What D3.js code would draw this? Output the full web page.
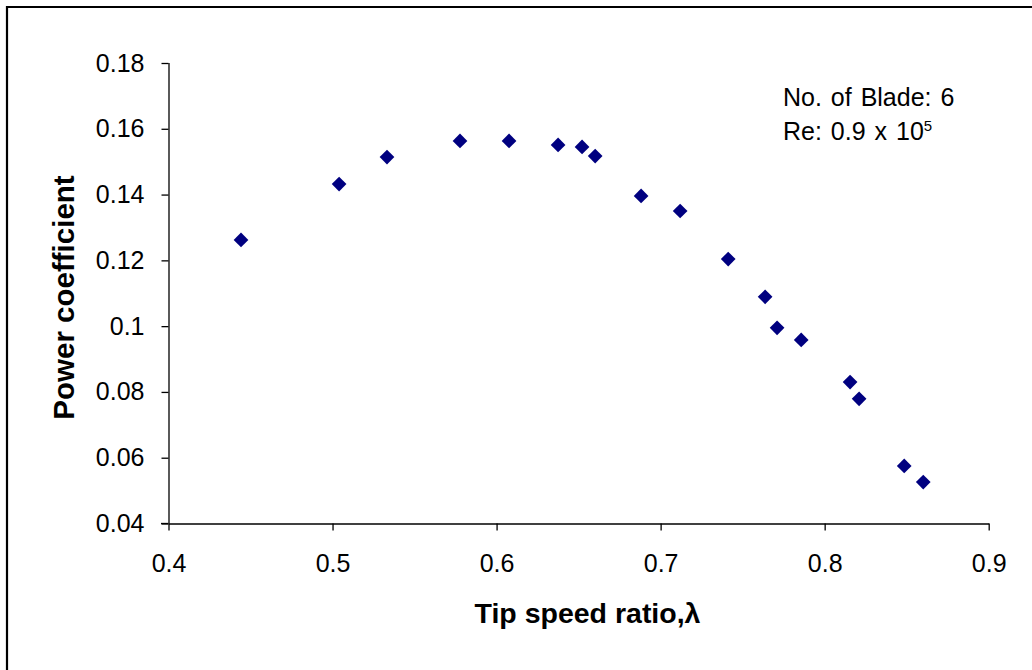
<!DOCTYPE html>
<html><head><meta charset="utf-8">
<script src="https://cdn.jsdelivr.net/npm/d3@7"></script>
<style>body{margin:0;background:#fff}svg{display:block}text{font-family:"Liberation Sans",Arial,sans-serif}</style>
</head><body><svg id="c" width="1032" height="670"></svg>
<script>
const tsr = [0.4442,0.5040,0.5332,0.5777,0.6076,0.6375,0.6521,0.6601,0.6881,0.7119,0.7412,0.7637,0.7710,0.7857,0.8155,0.8210,0.8485,0.8601];
const cp  = [0.1262,0.1432,0.1514,0.1563,0.1563,0.1551,0.1545,0.1517,0.1396,0.1350,0.1204,0.1089,0.0995,0.0958,0.0830,0.0779,0.0575,0.0526];
const xTicks = [0.4,0.5,0.6,0.7,0.8,0.9];
const yTicks = [0.04,0.06,0.08,0.1,0.12,0.14,0.16,0.18];
const xTitle = "Tip speed ratio,λ";
const yTitle = "Power coefficient";
const note1 = "No. of Blade: 6";
const note2 = ["Re: 0.9 x 10","5"];

const svg = d3.select("#c");
svg.append("path").attr("d","M7,680 V7 H1040").attr("fill","none").attr("stroke","#000").attr("stroke-width",2.2);

const x = d3.scaleLinear().domain([0.4,0.9]).range([168.5,988.7]);
const y = d3.scaleLinear().domain([0.04,0.18]).range([523.5,63]);

const xa = svg.append("g").attr("transform","translate(0,523.5)")
  .call(d3.axisBottom(x).tickValues(xTicks).tickFormat(d=>String(d)).tickSize(7).tickSizeOuter(0).tickPadding(24));
const ya = svg.append("g").attr("transform","translate(168.5,0)")
  .call(d3.axisLeft(y).tickValues(yTicks).tickFormat(d=>String(+d.toFixed(2))).tickSize(7).tickSizeOuter(0).tickPadding(17));
[xa,ya].forEach(a=>{
  a.attr("font-size",25).attr("font-family","Liberation Sans, Arial, sans-serif");
  a.selectAll("path,line").attr("stroke","#000").attr("stroke-width",1.3);
  a.selectAll("text").attr("font-size",25).attr("fill","#000");
});
ya.select(".domain").attr("d","M0.5,63 V523.5");
svg.append("line").attr("x1",161).attr("x2",168.5).attr("y1",523.5).attr("y2",523.5).attr("stroke","#000").attr("stroke-width",1.3);

svg.append("g").selectAll("path").data(tsr.map((d,i)=>[d,cp[i]])).join("path")
  .attr("d",d3.symbol(d3.symbolSquare,108)())
  .attr("transform",d=>`translate(${x(d[0])},${y(d[1])}) rotate(45)`)
  .attr("fill","#000080");

svg.append("text").attr("x",587.5).attr("y",623).attr("text-anchor","middle")
  .attr("font-size",28.5).attr("font-weight","bold").text(xTitle);
svg.append("text").attr("transform","translate(74,297.5) rotate(-90)").attr("text-anchor","middle")
  .attr("font-size",29.5).attr("font-weight","bold").text(yTitle);

svg.append("text").attr("x",783).attr("y",106).attr("font-size",25).attr("word-spacing",2).text(note1);
const t2 = svg.append("text").attr("x",783).attr("y",140).attr("font-size",25).attr("word-spacing",2);
t2.append("tspan").text(note2[0]);
t2.append("tspan").attr("dy",-9).attr("font-size",15).text(note2[1]);
</script></body></html>
